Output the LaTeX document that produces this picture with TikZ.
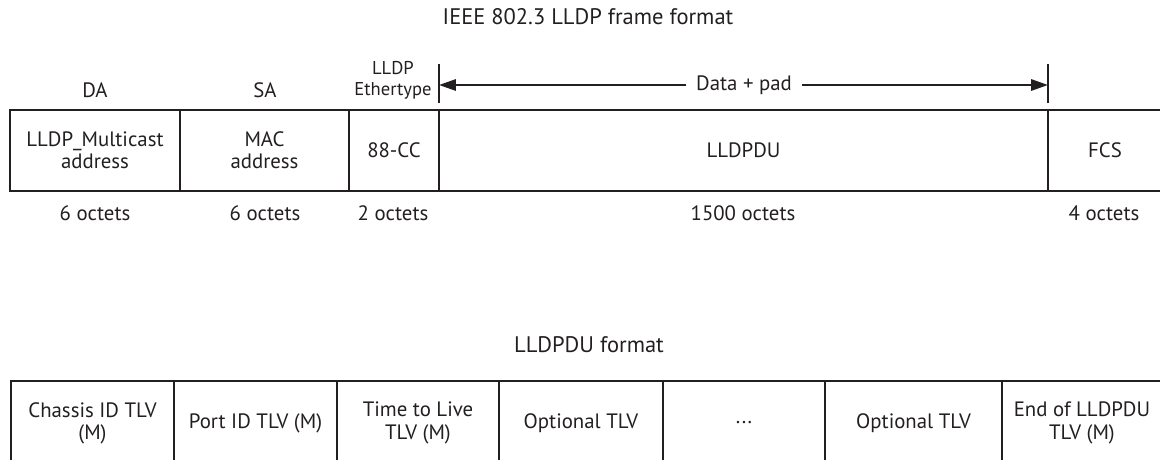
\documentclass[tikz,border=0pt]{standalone}
\usepackage{fontspec}
\setmainfont{PT Sans}
\usetikzlibrary{arrows.meta}
\definecolor{ink}{HTML}{231F20}
\newcommand\fieldfont{\fontsize{14.8}{15.8}\selectfont}
\newcommand\smallfont{\fontsize{13.2}{14.8}\selectfont}
\newcommand\headfont{\fontsize{16}{18}\selectfont}
\tikzset{
	field/.style={draw=ink, line width=1.5pt, align=center, text=ink, inner sep=0pt, outer sep=0pt, font=\fieldfont},
	fw/.style={minimum width=#1*0.025cm},
	fh/.style={minimum height=#1*0.025cm},
	lbl/.style={text=ink, align=center, inner sep=0pt, font=\fieldfont},
	tick/.style={draw=ink, line width=1.5pt},
	span/.style={draw=ink, line width=1.5pt, -{Triangle[length=12pt,width=8pt]}}
}
\begin{document}
\begin{tikzpicture}[x=0.025cm, y=-0.025cm]
	\useasboundingbox (0,0) rectangle (1160,460);
	\clip (0,0) rectangle (1160,460);

	\node[lbl, font=\headfont] (frametitle) at (588,17) {IEEE 802.3 LLDP frame format};

	\node[field, fw=170, fh=81] (da) at (95,150.5) {LLDP\_Multicast\\address};
	\node[field, fw=169, fh=81] (sa) at (264.5,150.5) {MAC\\address};
	\node[field, fw=90, fh=81] (etype) at (394,150.5) {88-CC};
	\node[field, fw=609, fh=81] (pdu) at (743.5,150.5) {LLDPDU};
	\node[field, fw=114, fh=81] (fcs) at (1105,150.5) {FCS};

	\node[lbl] (dalbl) at (95,90) {DA};
	\node[lbl] (salbl) at (265,90) {SA};
	\node[lbl, font=\smallfont] (etypelbl) at (393,80) {LLDP\\Ethertype};

	\draw[tick] (pdu.north west) ++(0,-7) -- ++(0,-39);
	\draw[tick] (pdu.north east) ++(0,-7) -- ++(0,-39);
	\coordinate (padl) at (439,85);
	\coordinate (padr) at (1048,85);
	\node[lbl, inner xsep=7pt] (pad) at (744,85) {Data + pad};
	\draw[span] (pad) -- (padl);
	\draw[span] (pad) -- (padr);

	\node[lbl] (daoct) at (95,213) {6 octets};
	\node[lbl] (saoct) at (265,213) {6 octets};
	\node[lbl] (etypeoct) at (393,213) {2 octets};
	\node[lbl] (pduoct) at (743,213) {1500 octets};
	\node[lbl] (fcsoct) at (1104,213) {4 octets};

	\node[lbl, font=\headfont] (pdutitle) at (589,345) {LLDPDU format};

	\node[field, fw=163, fh=84] (chassis) at (92.5,423) {Chassis ID TLV\\(M)};
	\node[field, fw=163, fh=84] (port) at (255.5,423) {Port ID TLV (M)};
	\node[field, fw=162, fh=84] (ttl) at (418,423) {Time to Live\\TLV (M)};
	\node[field, fw=164, fh=84] (opta) at (581,423) {Optional TLV};
	\node[field, fw=162, fh=84] (more) at (744,423) {...};
	\node[field, fw=177, fh=84] (optb) at (913.5,423) {Optional TLV};
	\node[field, fw=160, fh=84] (eol) at (1082,423) {End of LLDPDU\\TLV (M)};
\end{tikzpicture}
\end{document}
